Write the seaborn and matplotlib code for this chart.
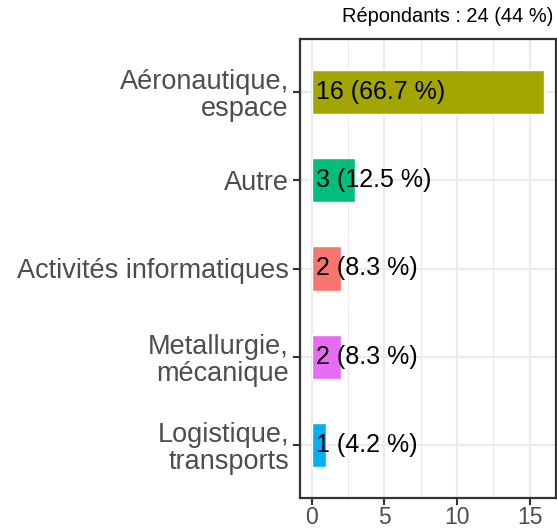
import numpy as np
import pandas as pd
import matplotlib
matplotlib.use("Agg")
import matplotlib.pyplot as plt
import seaborn as sns

# Données
categories = ["Aéronautique,\nespace", "Autre", "Activités informatiques",
              "Metallurgie,\nmécanique", "Logistique,\ntransports"]
effectifs = [16, 3, 2, 2, 1]
pourcentages = [66.7, 12.5, 8.3, 8.3, 4.2]
couleurs = ["#A3A500", "#00BF7D", "#F8766D", "#E76BF3", "#00B0F6"]
titre = "Répondants : 24 (44 %)"

df = pd.DataFrame({"secteur": categories, "n": effectifs, "pct": pourcentages})

sns.set_theme(style="white")
plt.rcParams["font.family"] = ["Liberation Sans", "DejaVu Sans"]

fig = plt.figure(figsize=(5.57, 5.30), dpi=100)
ax = fig.add_axes([300 / 557, 1 - 498 / 530, 256 / 557, 459 / 530])

sns.barplot(ax=ax, data=df, x="n", y="secteur", hue="secteur", palette=couleurs,
            orient="h", width=0.5, legend=False, saturation=1, zorder=3)

# Étiquettes
for i, (n, p) in enumerate(zip(df["n"], df["pct"])):
    ax.text(0.3, i, f"{n} ({p} %)", ha="left", va="center", fontsize=18,
            color="black", zorder=4)

ax.set_xlim(-0.8, 16.8)
ax.set_ylim(4.6, -0.6)
ax.set_xticks([0, 5, 10, 15])
ax.set_xticks([2.5, 7.5, 12.5], minor=True)
ax.grid(True, which="major", color="#EBEBEB", linewidth=1.6, zorder=0)
ax.grid(True, which="minor", axis="x", color="#EBEBEB", linewidth=0.8, zorder=0)
ax.set_axisbelow(True)

ax.set_xlabel("")
ax.set_ylabel("")
ax.tick_params(axis="y", labelsize=19.5, labelcolor="#4D4D4D", length=5, width=1.5,
               color="#333333", left=True, pad=3)
ax.tick_params(axis="x", labelsize=16.5, labelcolor="#4D4D4D", length=5, width=1.5,
               color="#333333", bottom=True, pad=1)
for lbl in ax.get_yticklabels():
    lbl.set_horizontalalignment("right")
    lbl.set_multialignment("right")
    lbl.set_linespacing(1.05)

for s in ax.spines.values():
    s.set_color("#333333")
    s.set_linewidth(1.6)

fig.text(553 / 557, 1 - 17 / 530, titre, ha="right", va="center", fontsize=14.4,
         color="black")

fig.savefig("out.png", dpi=100)
